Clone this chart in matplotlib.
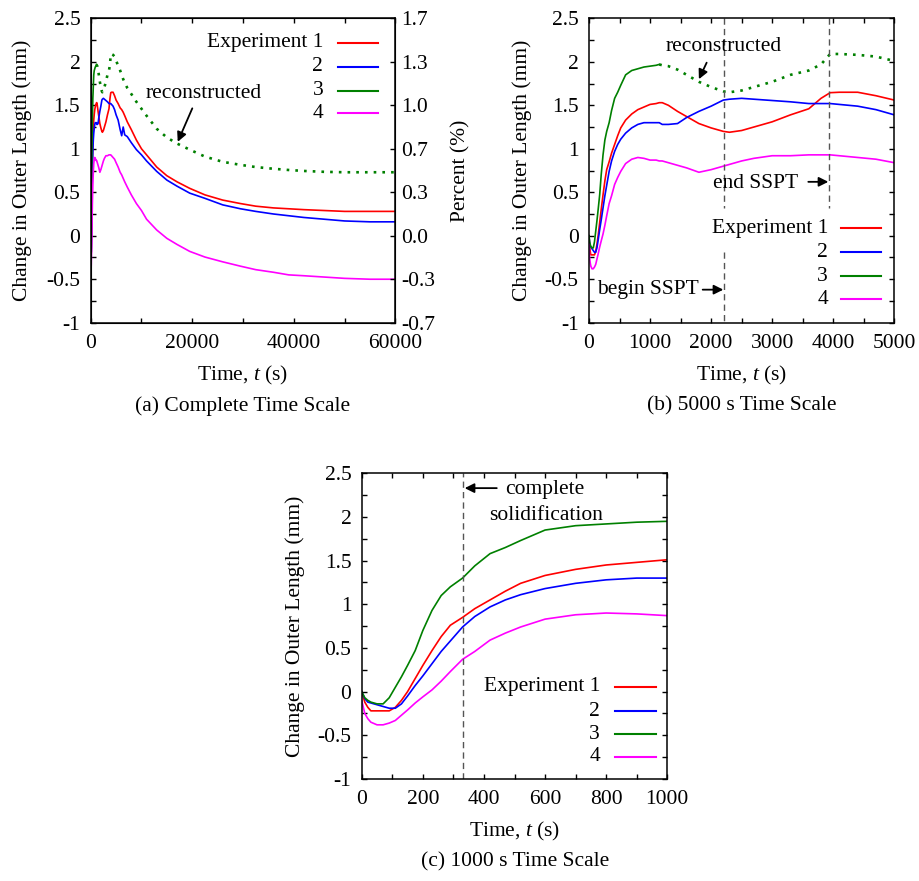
import numpy as np
import matplotlib
matplotlib.use("Agg")
import matplotlib.pyplot as plt
from matplotlib.ticker import MultipleLocator, FuncFormatter, FixedLocator

plt.rcParams.update({
    "font.family": ["Liberation Serif", "DejaVu Serif"],
    "font.size": 15.5,
    "axes.unicode_minus": False,
    "mathtext.fontset": "custom",
    "mathtext.rm": "Liberation Serif",
    "mathtext.it": "Liberation Serif:italic",
})

# time (s)
t = np.array([0, 10, 20, 30, 50, 70, 90, 110, 130, 150, 175, 200, 230, 260, 290, 330, 370, 420, 470, 520,
              600, 700, 800, 900, 1000, 1100, 1150, 1200, 1300, 1450, 1600, 1800, 2000, 2200, 2300,
              2500, 2700, 3000, 3300, 3600, 3800, 3950, 4100, 4400, 4700, 5000, 5400, 5800, 6100, 6400,
              6700, 7200, 8000, 9000, 10000, 11000, 13000, 15000, 17000, 19500, 22500, 26000, 29500,
              32500, 36000, 39000, 42000, 46000, 50000, 55000, 60000])

# change in outer length (mm)
exp1 = np.array([0, -0.12, -0.18, -0.22, -0.22, -0.22, -0.22, -0.18, -0.10, 0.0, 0.15, 0.30, 0.47, 0.63, 0.76,
                 0.85, 0.95, 1.05, 1.15, 1.24, 1.33, 1.40, 1.45, 1.48, 1.51,
                 1.52, 1.53, 1.53, 1.50, 1.43, 1.37, 1.29, 1.24, 1.20, 1.19,
                 1.21, 1.25, 1.31, 1.39, 1.46, 1.58, 1.645, 1.65, 1.65, 1.61,
                 1.56, 1.52, 1.47, 1.45, 1.42, 1.38, 1.31, 1.22, 1.10, 1.00,
                 0.93, 0.79, 0.69, 0.62, 0.545, 0.47, 0.41, 0.37, 0.34, 0.32,
                 0.31, 0.30, 0.29, 0.28, 0.28, 0.28])
exp2 = np.array([0, -0.08, -0.12, -0.13, -0.15, -0.17, -0.19, -0.19, -0.14, -0.05, 0.07, 0.18, 0.32, 0.46, 0.58,
                 0.74, 0.86, 0.97, 1.05, 1.11, 1.18, 1.24, 1.28, 1.30, 1.30,
                 1.30, 1.30, 1.28, 1.28, 1.29, 1.36, 1.43, 1.49, 1.56, 1.57,
                 1.58, 1.57, 1.555, 1.54, 1.52, 1.52, 1.52, 1.51, 1.49, 1.45,
                 1.39, 1.33, 1.22, 1.15, 1.25, 1.16, 1.14, 1.07, 0.99, 0.93,
                 0.86, 0.74, 0.64, 0.57, 0.49, 0.43, 0.355, 0.31, 0.28, 0.25,
                 0.23, 0.21, 0.19, 0.17, 0.16, 0.16])
exp3 = np.array([0, -0.07, -0.10, -0.12, -0.14, -0.14, -0.07, 0.05, 0.17, 0.30, 0.47, 0.70, 0.93, 1.10, 1.20,
                 1.30, 1.44, 1.58, 1.65, 1.73, 1.85, 1.90, 1.92, 1.94, 1.95,
                 1.96, 1.97, 1.96, 1.95, 1.91, 1.85, 1.77, 1.71, 1.66, 1.65,
                 1.67, 1.71, 1.77, 1.85, 1.90, 1.97, 2.09, 2.09, 2.08, 2.06,
                 2.01, 1.96, 1.90, 1.85, 1.80, 1.76, 1.70, 1.63, 1.54, 1.46,
                 1.38, 1.23, 1.13, 1.06, 0.99, 0.91, 0.85, 0.815, 0.79, 0.77,
                 0.756, 0.745, 0.735, 0.73, 0.73, 0.73])
exp4 = np.array([-0.10, -0.25, -0.31, -0.35, -0.38, -0.38, -0.36, -0.33, -0.27, -0.21, -0.13, -0.06, 0.02, 0.12,
                 0.23, 0.37, 0.46, 0.59, 0.67, 0.74, 0.83, 0.88, 0.90, 0.89, 0.87,
                 0.87, 0.86, 0.86, 0.84, 0.81, 0.78, 0.73, 0.76, 0.80, 0.82,
                 0.86, 0.89, 0.92, 0.92, 0.93, 0.93, 0.93, 0.92, 0.90, 0.88,
                 0.84, 0.79, 0.73, 0.70, 0.66, 0.62, 0.56, 0.47, 0.37, 0.29,
                 0.19, 0.066, -0.03, -0.10, -0.18, -0.245, -0.30, -0.35, -0.39, -0.42,
                 -0.45, -0.46, -0.475, -0.49, -0.50, -0.50])
exp3_measured_until = 1150  # green is reconstructed (dotted) after this

labels = ["Experiment 1", "2", "3", "4"]
colors = ["#ff0000", "#0000ff", "#008000", "#ff00ff"]
series = [exp1, exp2, exp3, exp4]

pct_ticks = [2.5, 2, 1.5, 1, 0.5, 0, -0.5, -1]
pct_labels = ["1.7", "1.3", "1.0", "0.7", "0.3", "0.0", "-0.3", "-0.7"]

sspt_begin, sspt_end = 2210, 3935
solidified = 331

fig = plt.figure(figsize=(9.19, 8.81), dpi=100)
ax_a = fig.add_axes([0.0987, 0.6337, 0.3315, 0.3455])
ax_b = fig.add_axes([0.6409, 0.6337, 0.3322, 0.3455])
ax_c = fig.add_axes([0.3936, 0.1158, 0.3325, 0.3470])

TL = 3.6
LW = 1.2


def style(ax, xmax, major, minor, right=True):
    ax.set_xlim(0, xmax)
    ax.set_ylim(-1, 2.5)
    ax.xaxis.set_major_locator(MultipleLocator(major))
    ax.xaxis.set_minor_locator(MultipleLocator(minor))
    ax.yaxis.set_major_locator(MultipleLocator(0.5))
    ax.yaxis.set_minor_locator(MultipleLocator(0.25))
    ax.xaxis.set_major_formatter(FuncFormatter(lambda v, p: f"{v:g}"))
    ax.yaxis.set_major_formatter(FuncFormatter(lambda v, p: f"{v:g}"))
    ax.tick_params(which="both", direction="in", length=TL, width=1, top=True, right=right)
    ax.tick_params(axis="y", pad=7.5)
    ax.tick_params(axis="x", pad=8)
    for s in ax.spines.values():
        s.set_linewidth(1.1)
    ax.set_xlabel("Time, $t$ (s)")
    ax.set_ylabel("Change in Outer Length (mm)")
    ax.xaxis.set_label_coords(0.5, -0.135)


def curves(ax):
    for y, c in zip(series, colors):
        if y is exp3:
            m = t <= exp3_measured_until
            ax.plot(t[m], y[m], color=c, lw=LW)
            m = t >= exp3_measured_until
            ax.plot(t[m], y[m], color=c, lw=1.9, ls=(0, (1, 2.3)))
        else:
            ax.plot(t, y, color=c, lw=LW)


def key(ax, xt, x0, x1, ys):
    for lab, c, y in zip(labels, colors, ys):
        ax.text(xt, y, lab, transform=ax.transAxes, ha="right", va="center")
        ax.plot([x0, x1], [y, y], transform=ax.transAxes, color=c, lw=LW + 0.3)


arrow = dict(arrowstyle="-|>", color="black", lw=1.3, mutation_scale=14, shrinkA=0, shrinkB=0)
vdash = dict(color="#555555", lw=1.0, ls=(0, (4.5, 3)))

# (a)
curves(ax_a)
style(ax_a, 60000, 20000, 10000, right=False)
ax_a.yaxis.set_label_coords(-0.194, 0.5)
ax_a2 = ax_a.twinx()
ax_a2.set_ylim(-1, 2.5)
ax_a2.yaxis.set_major_locator(FixedLocator(pct_ticks))
ax_a2.set_yticklabels(pct_labels)
ax_a2.tick_params(direction="in", length=TL, width=1, pad=4.5)
ax_a2.set_ylabel("Percent (%)")
ax_a2.yaxis.set_label_coords(1.185, 0.5)
key(ax_a, 0.763, 0.812, 0.943, [0.920, 0.841, 0.762, 0.688])
ax_a.text(22180, 1.63, "reconstructed", ha="center", va="center")
ax_a.annotate("", xy=(17140, 1.08), xytext=(20010, 1.465), arrowprops=arrow)

# (b)
curves(ax_b)
style(ax_b, 5000, 1000, 500)
ax_b.yaxis.set_label_coords(-0.188, 0.5)
ax_b.plot([sspt_begin, sspt_begin], [2.5, 0.32], **vdash)
ax_b.plot([sspt_begin, sspt_begin], [-0.19, -1], **vdash)
ax_b.plot([sspt_end, sspt_end], [2.5, 0.32], **vdash)
key(ax_b, 0.783, 0.825, 0.958, [0.310, 0.231, 0.153, 0.077])
ax_b.text(2200, 2.18, "reconstructed", ha="center", va="center")
ax_b.annotate("", xy=(1800, 1.80), xytext=(1927, 1.99), arrowprops=arrow)
ax_b.text(2727, 0.60, "end SSPT", ha="center", va="center")
ax_b.annotate("", xy=(sspt_end - 15, 0.62), xytext=(3592, 0.62), arrowprops=arrow)
ax_b.text(958, -0.62, "begin SSPT", ha="center", va="center")
ax_b.annotate("", xy=(sspt_begin - 10, -0.62), xytext=(1862, -0.62), arrowprops=arrow)

# (c)
curves(ax_c)
style(ax_c, 1000, 200, 100)
ax_c.yaxis.set_label_coords(-0.1855, 0.5)
ax_c.axvline(solidified, **vdash)
key(ax_c, 0.780, 0.829, 0.963, [0.301, 0.222, 0.147, 0.072])
ax_c.text(469, 2.31, "complete", ha="left", va="center")
ax_c.text(602, 2.02, "solidification", ha="center", va="center")
ax_c.annotate("", xy=(solidified + 6, 2.33), xytext=(442, 2.33), arrowprops=arrow)

fig.text(0.2644, 1 - 406 / 881, "(a) Complete Time Scale", ha="center", va="center")
fig.text(0.807, 1 - 406 / 881, "(b) 5000 s Time Scale", ha="center", va="center")
fig.text(0.560, 1 - 862 / 881, "(c) 1000 s Time Scale", ha="center", va="center")

fig.savefig("out.png", dpi=100)
